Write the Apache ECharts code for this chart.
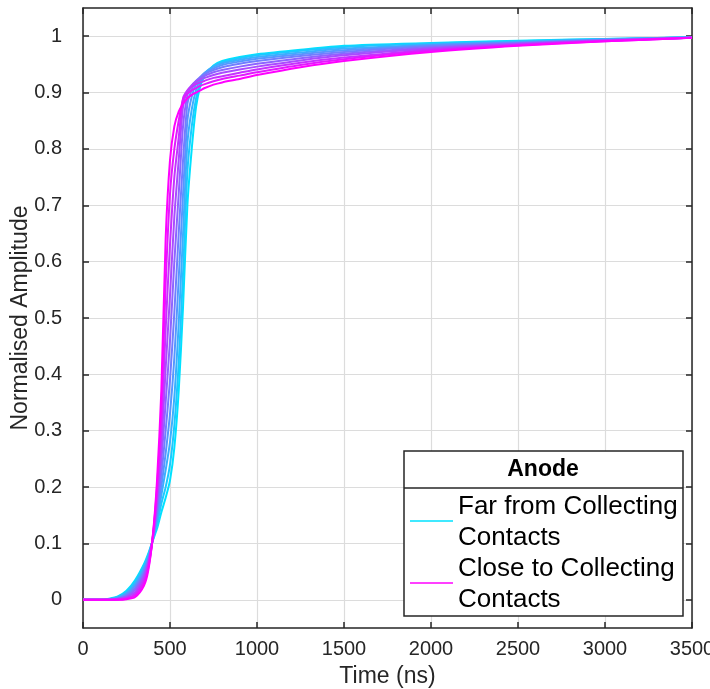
<!DOCTYPE html>
<html>
<head>
<meta charset="utf-8">
<script src="https://cdn.jsdelivr.net/npm/echarts@6/dist/echarts.min.js"></script>
<style>
html,body{margin:0;padding:0;background:#fff;}
#chart{width:710px;height:689px;}
</style>
</head>
<body>
<div id="chart"></div>
<script>
// Time samples (ns)
const time = [0,100,150,200,250,300,350,375,400,425,450,475,500,525,550,575,600,625,650,675,700,750,800,900,1000,1250,1500,2000,2500,3000,3500];

// Normalised amplitude traces, from far (cyan) to close (magenta) to the collecting contacts
const trace0 = [0,0,0.002,0.006,0.016,0.035,0.063,0.082,0.104,0.126,0.155,0.181,0.212,0.27,0.37,0.52,0.70,0.80,0.875,0.912,0.93,0.948,0.956,0.963,0.968,0.976,0.983,0.988,0.992,0.995,0.998];
const trace1 = [0,0,0.001,0.005,0.014,0.032,0.060,0.079,0.105,0.133,0.17,0.20,0.24,0.31,0.42,0.58,0.76,0.84,0.89,0.918,0.933,0.947,0.954,0.961,0.966,0.974,0.981,0.987,0.991,0.995,0.998];
const trace2 = [0,0,0.001,0.004,0.012,0.028,0.056,0.076,0.105,0.141,0.185,0.23,0.28,0.36,0.49,0.65,0.81,0.87,0.905,0.924,0.935,0.946,0.952,0.958,0.963,0.971,0.978,0.985,0.990,0.994,0.998];
const trace3 = [0,0,0.001,0.003,0.010,0.025,0.052,0.073,0.106,0.149,0.20,0.26,0.33,0.43,0.57,0.72,0.85,0.893,0.915,0.927,0.935,0.943,0.949,0.955,0.960,0.968,0.975,0.984,0.989,0.994,0.998];
const trace4 = [0,0,0,0.002,0.008,0.021,0.048,0.070,0.106,0.158,0.22,0.30,0.39,0.51,0.65,0.78,0.88,0.905,0.92,0.928,0.933,0.940,0.945,0.951,0.956,0.965,0.972,0.982,0.988,0.993,0.997];
const trace5 = [0,0,0,0.002,0.006,0.018,0.044,0.067,0.107,0.167,0.245,0.35,0.46,0.60,0.72,0.84,0.895,0.912,0.921,0.926,0.93,0.936,0.940,0.946,0.951,0.961,0.969,0.980,0.987,0.993,0.997];
const trace6 = [0,0,0,0.001,0.005,0.014,0.040,0.064,0.108,0.177,0.27,0.41,0.54,0.68,0.78,0.875,0.903,0.913,0.919,0.923,0.926,0.931,0.935,0.941,0.946,0.957,0.966,0.978,0.986,0.992,0.997];
const trace7 = [0,0,0,0.001,0.003,0.011,0.035,0.060,0.108,0.187,0.30,0.48,0.63,0.75,0.82,0.89,0.904,0.91,0.915,0.918,0.921,0.926,0.929,0.935,0.941,0.953,0.962,0.976,0.985,0.992,0.997];
const trace8 = [0,0,0,0,0.002,0.008,0.030,0.056,0.109,0.198,0.335,0.56,0.72,0.80,0.85,0.888,0.898,0.904,0.908,0.912,0.915,0.920,0.924,0.930,0.936,0.949,0.959,0.974,0.984,0.991,0.997];
const trace9 = [0,0,0,0,0.001,0.005,0.025,0.052,0.11,0.21,0.37,0.64,0.78,0.84,0.866,0.88,0.89,0.896,0.900,0.904,0.908,0.914,0.918,0.924,0.931,0.945,0.956,0.972,0.983,0.991,0.997];

const traces = [trace0,trace1,trace2,trace3,trace4,trace5,trace6,trace7,trace8,trace9];

// Axis ticks
const xTicks = [0,500,1000,1500,2000,2500,3000,3500];
const yTicks = [0,0.1,0.2,0.3,0.4,0.5,0.6,0.7,0.8,0.9,1];

// Legend text
const legendTitle = 'Anode';
const legendFar = ['Far from Collecting','Contacts'];
const legendClose = ['Close to Collecting','Contacts'];

const FONT = '"Liberation Sans", Arial, Helvetica, sans-serif';
const AX = '#262626';
const cFar = [0, 226, 255];
const cClose = [255, 0, 255];
function mix(t){
  const r = Math.round(cFar[0]+(cClose[0]-cFar[0])*t);
  const g = Math.round(cFar[1]+(cClose[1]-cFar[1])*t);
  const b = Math.round(cFar[2]+(cClose[2]-cFar[2])*t);
  return 'rgb('+r+','+g+','+b+')';
}

const series = traces.map((tr, i) => ({
  type: 'line',
  xAxisIndex: 0, yAxisIndex: 0,
  data: time.map((t, j) => [t, tr[j]]),
  showSymbol: false,
  smooth: 0.25,
  lineStyle: { color: mix(i/(traces.length-1)), width: 2 },
  z: 2 + i,
  silent: true
}));

const isTick = (v, arr) => arr.some(a => Math.abs(a - v) < 1e-9);

const chart = echarts.init(document.getElementById('chart'), null, {renderer:'canvas'});
chart.setOption({
  animation: false,
  backgroundColor: '#fff',
  grid: { left: 83, right: 18, top: 8, bottom: 61, containLabel: false, outerBoundsMode: 'none' },
  xAxis: [{
    type: 'value', min: 0, max: 3500, interval: 500,
    name: 'Time (ns)', nameLocation: 'middle', nameGap: 37, nameMoveOverlap: false,
    nameTextStyle: { fontFamily: FONT, fontSize: 23, color: AX },
    axisLine: { show: true, onZero: false, lineStyle: { color: AX, width: 1.5 } },
    axisTick: { show: true, inside: true, length: 6, lineStyle: { color: AX, width: 1.5 } },
    axisLabel: { fontFamily: FONT, fontSize: 20, color: AX, margin: 11,
      formatter: v => isTick(v, xTicks) ? String(v) : '' },
    splitLine: { show: true, lineStyle: { color: '#dcdcdc', width: 1.2 } }
  },{
    type: 'value', position: 'top', min: 0, max: 3500, interval: 500,
    axisLine: { show: true, onZero: false, lineStyle: { color: AX, width: 1.5 } },
    axisTick: { show: true, inside: true, length: 6, lineStyle: { color: AX, width: 1.5 } },
    axisLabel: { show: false }, splitLine: { show: false }
  }],
  yAxis: [{
    type: 'value', min: -0.05, max: 1.05, splitNumber: 11,
    name: 'Normalised Amplitude', nameLocation: 'middle', nameGap: 51, nameMoveOverlap: false,
    nameTextStyle: { fontFamily: FONT, fontSize: 23, color: AX },
    axisLine: { show: true, onZero: false, lineStyle: { color: AX, width: 1.5 } },
    axisTick: { show: true, inside: true, length: 6, lineStyle: { color: AX, width: 1.5 },
      customValues: yTicks },
    axisLabel: { fontFamily: FONT, fontSize: 20, color: AX, margin: 21,
      customValues: yTicks,
      formatter: v => isTick(v, yTicks) ? String(+v.toFixed(2)) : '' },
    splitLine: { show: true, lineStyle: { color: '#dcdcdc', width: 1.2 } }
  },{
    type: 'value', position: 'right', min: -0.05, max: 1.05, splitNumber: 11,
    axisLine: { show: true, onZero: false, lineStyle: { color: AX, width: 1.5 } },
    axisTick: { show: true, inside: true, length: 6, lineStyle: { color: AX, width: 1.5 },
      customValues: yTicks },
    axisLabel: { show: false }, splitLine: { show: false }
  }],
  series: series,
  graphic: [
    { type: 'rect', z: 100, shape: { x: 404, y: 451, width: 279, height: 165 },
      style: { fill: '#fff', stroke: AX, lineWidth: 1.5 } },
    { type: 'line', z: 101, shape: { x1: 404, y1: 488, x2: 683, y2: 488 },
      style: { stroke: AX, lineWidth: 1.5 } },
    { type: 'text', z: 101, x: 543, y: 470,
      style: { text: legendTitle, fontFamily: FONT, fontSize: 23, fontWeight: 'bold', fill: '#000',
        align: 'center', verticalAlign: 'middle' } },
    { type: 'line', z: 101, shape: { x1: 410, y1: 521, x2: 453, y2: 521 },
      style: { stroke: mix(0), lineWidth: 1.5 } },
    { type: 'line', z: 101, shape: { x1: 410, y1: 583, x2: 453, y2: 583 },
      style: { stroke: mix(1), lineWidth: 1.5 } },
    { type: 'text', z: 101, x: 458, y: 507,
      style: { text: legendFar[0], fontFamily: FONT, fontSize: 26, fill: '#000', align: 'left', verticalAlign: 'middle' } },
    { type: 'text', z: 101, x: 458, y: 538,
      style: { text: legendFar[1], fontFamily: FONT, fontSize: 26, fill: '#000', align: 'left', verticalAlign: 'middle' } },
    { type: 'text', z: 101, x: 458, y: 569,
      style: { text: legendClose[0], fontFamily: FONT, fontSize: 26, fill: '#000', align: 'left', verticalAlign: 'middle' } },
    { type: 'text', z: 101, x: 458, y: 600,
      style: { text: legendClose[1], fontFamily: FONT, fontSize: 26, fill: '#000', align: 'left', verticalAlign: 'middle' } }
  ]
});
</script>
</body>
</html>
